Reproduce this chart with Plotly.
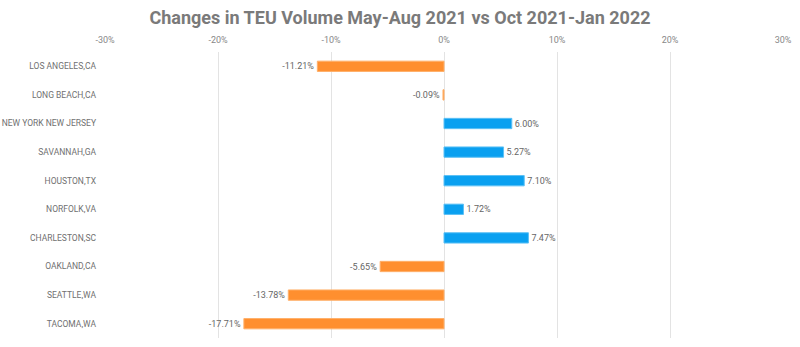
import plotly.graph_objects as go

ports = ["LOS ANGELES,CA", "LONG BEACH,CA", "NEW YORK NEW JERSEY", "SAVANNAH,GA",
         "HOUSTON,TX", "NORFOLK,VA", "CHARLESTON,SC", "OAKLAND,CA", "SEATTLE,WA", "TACOMA,WA"]
changes = [-11.21, -0.09, 6.00, 5.27, 7.10, 1.72, 7.47, -5.65, -13.78, -17.71]
tick_vals = [-30, -20, -10, 0, 10, 20, 30]
tick_text = ["-30%", "-20%", "-10%", "0%", "10%", "20%", "30%"]

colors = ["#FF8F2F" if v < 0 else "#0AA0F0" for v in changes]
line_colors = ["#FFB06A" if v < 0 else "#5CC0F5" for v in changes]
labels = [f"{v:.2f}%" for v in changes]

fig = go.Figure(go.Bar(
    x=changes, y=ports, orientation="h",
    marker=dict(color=colors, line=dict(color=line_colors, width=1)),
    text=labels, textposition="outside", cliponaxis=False,
    textfont=dict(family="Roboto", size=9, color="#666666"),
))

fig.update_layout(
    width=800, height=347,
    margin=dict(l=105, r=17, t=52, b=9),
    paper_bgcolor="white", plot_bgcolor="white",
    title=dict(text="<b>Changes in TEU Volume May-Aug 2021 vs Oct 2021-Jan 2022</b>",
               x=0.5, xanchor="center", y=0.95, yanchor="middle",
               font=dict(family="Roboto", size=18, color="#7A7A7A")),
    bargap=0.64,
    showlegend=False,
    font=dict(family="Roboto"),
)
fig.update_xaxes(range=[-30, 30], side="top", tickvals=tick_vals, ticktext=tick_text,
                 showgrid=True, gridcolor="#E3E3E3", gridwidth=1,
                 zeroline=True, zerolinecolor="#E3E3E3", zerolinewidth=1,
                 tickfont=dict(family="Roboto", size=9, color="#888888"), ticks="", ticklabelstandoff=6,
                 showline=False, fixedrange=True, automargin=False)
fig.update_yaxes(categoryorder="array", categoryarray=ports, autorange="reversed",
                 tickfont=dict(family="Roboto", size=8.5, color="#707070"),
                 showgrid=False, ticks="", ticklabelstandoff=8, showline=False, automargin=False)

fig.write_html("out.html")
